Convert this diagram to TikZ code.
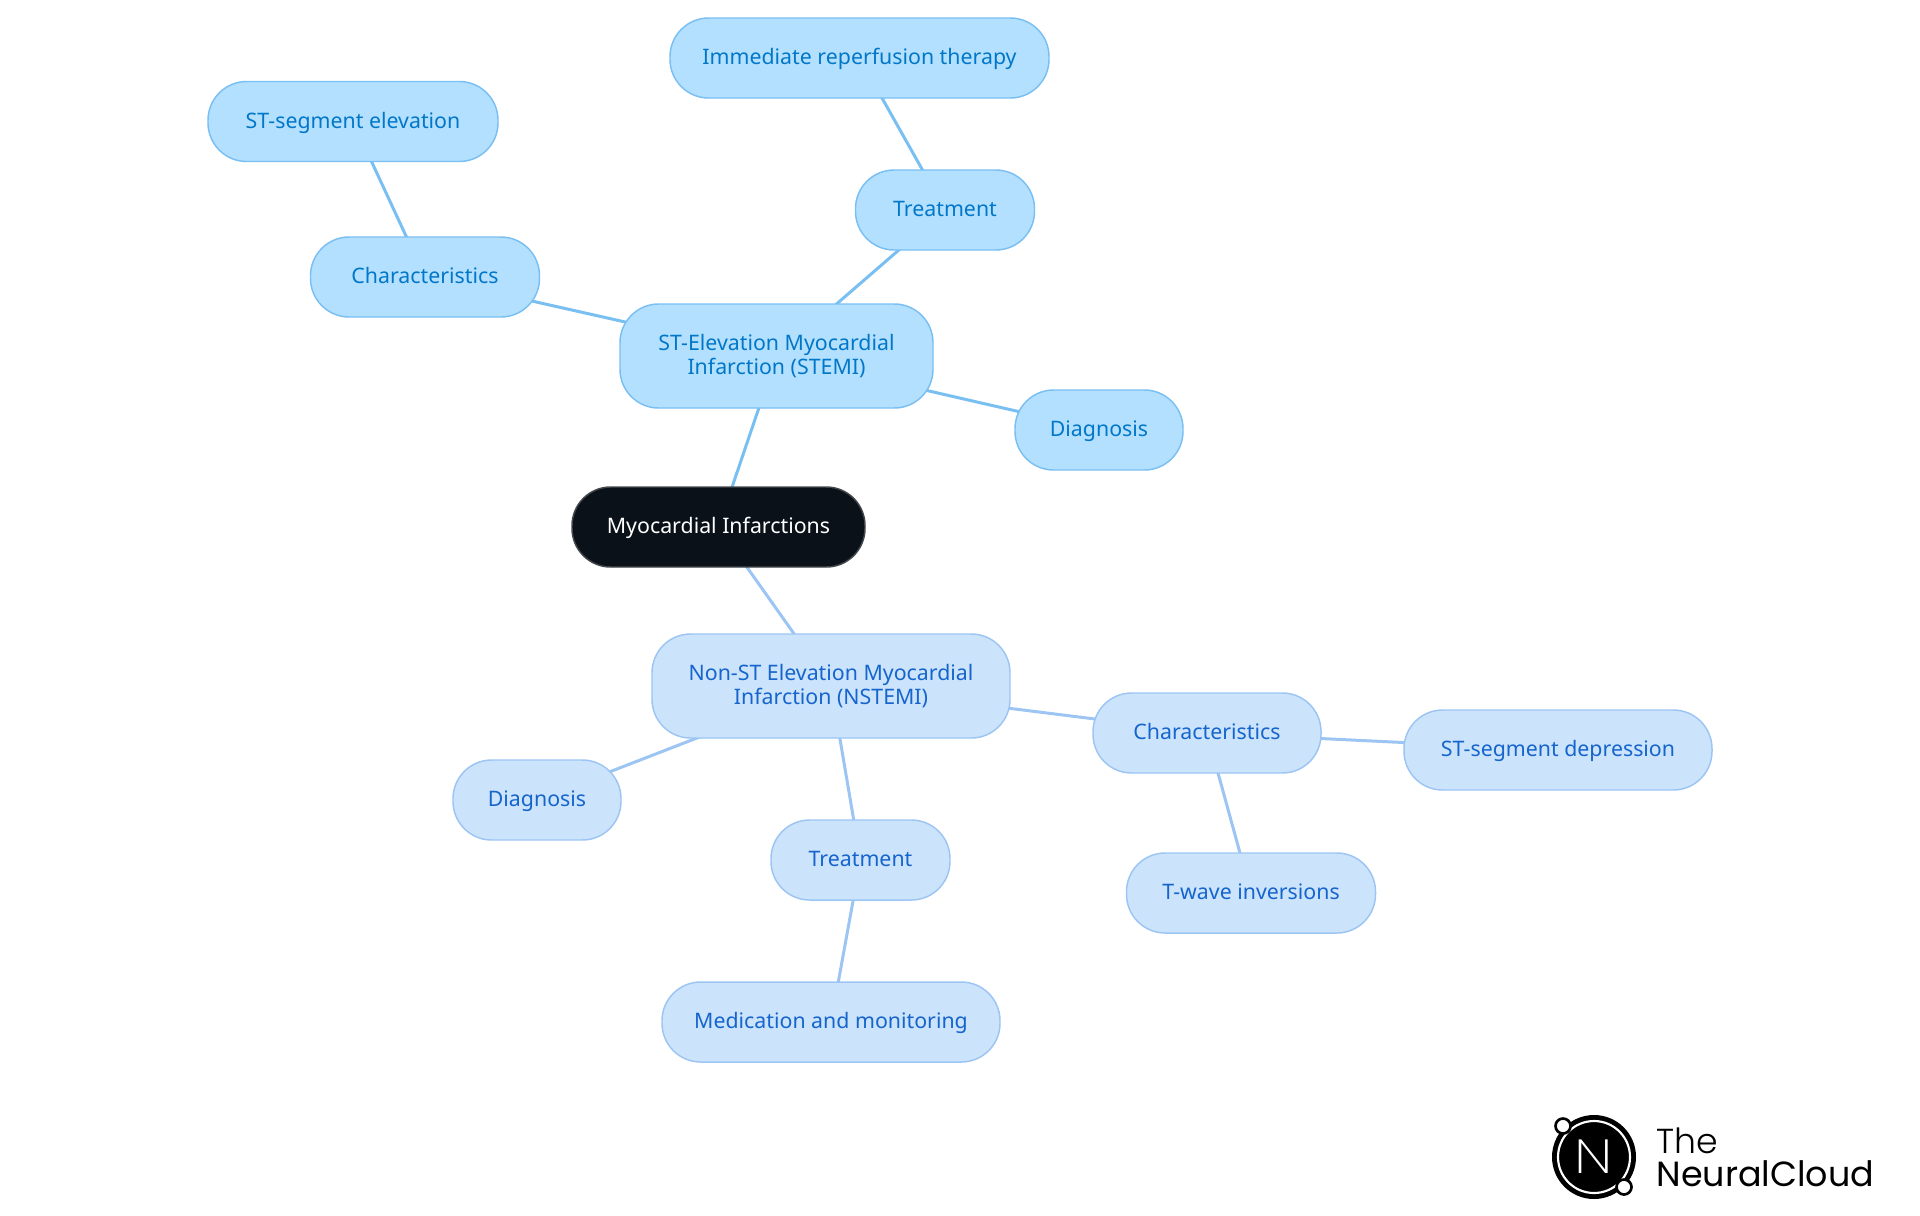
\documentclass[tikz,border=0pt]{standalone}
\usepackage{fontspec}
\setmainfont{Noto Sans}
\newfontfamily\logofont{Poppins}
\newfontfamily\logolight{Poppins Light}
\newfontfamily\logothin{Poppins ExtraLight}
\usetikzlibrary{backgrounds}
\definecolor{rootfill}{RGB}{11,17,25}
\definecolor{rootline}{RGB}{68,72,78}
\definecolor{stemifill}{RGB}{179,224,255}
\definecolor{stemiline}{RGB}{122,191,242}
\definecolor{stemitext}{RGB}{2,119,200}
\definecolor{nstemifill}{RGB}{204,227,252}
\definecolor{nstemiline}{RGB}{156,197,243}
\definecolor{nstemitext}{RGB}{21,101,205}
\tikzset{every picture/.style={line width=0.75pt}}
\tikzset{
	mapbox/.style={rounded corners=29pt,line width=1.1pt,minimum height=60pt,inner sep=0pt,align=center,font=\fontsize{16}{17.4}\selectfont},
	oneline/.style={text height=13pt,text depth=3pt},
	rootbox/.style={mapbox,oneline,draw=rootline,fill=rootfill,text=white},
	stemibox/.style={mapbox,draw=stemiline,fill=stemifill,text=stemitext},
	nstemibox/.style={mapbox,draw=nstemiline,fill=nstemifill,text=nstemitext},
	stemilink/.style={draw=stemiline,line width=2.25pt},
	nstemilink/.style={draw=nstemiline,line width=2.25pt},
}

\begin{document}
\begin{tikzpicture}[x=0.75pt,y=0.75pt,yscale=-1,xscale=1]
	\path[use as bounding box] (0,0) rectangle (1920,1215);

	%Root
	\node[rootbox,minimum width=219.75pt] (root) at (718.5,527) {Myocardial Infarctions};

	%STEMI branch
	\node[stemibox,minimum width=234.75pt,minimum height=78pt] (stemi) at (776.5,356) {ST-Elevation Myocardial\\Infarction (STEMI)};
	\node[stemibox,oneline,minimum width=171.75pt] (stemichar) at (425,277) {Characteristics};
	\node[stemibox,oneline,minimum width=217.5pt] (stemielev) at (353,121.5) {ST-segment elevation};
	\node[stemibox,oneline,minimum width=134.25pt] (stemitreat) at (945,210) {Treatment};
	\node[stemibox,oneline,minimum width=284.25pt] (stemireperf) at (859.5,58) {Immediate reperfusion therapy};
	\node[stemibox,oneline,minimum width=126pt] (stemidiag) at (1099,430) {Diagnosis};

	%NSTEMI branch
	\node[nstemibox,minimum width=268.5pt,minimum height=78pt] (nstemi) at (831,686) {Non-ST Elevation Myocardial\\Infarction (NSTEMI)};
	\node[nstemibox,oneline,minimum width=171pt] (nstemichar) at (1207,733) {Characteristics};
	\node[nstemibox,oneline,minimum width=231pt] (nstemidepr) at (1558,750) {ST-segment depression};
	\node[nstemibox,oneline,minimum width=186.75pt] (nstemitwave) at (1251,893) {T-wave inversions};
	\node[nstemibox,oneline,minimum width=126pt] (nstemidiag) at (537,800) {Diagnosis};
	\node[nstemibox,oneline,minimum width=134.25pt] (nstemitreat) at (860.5,860) {Treatment};
	\node[nstemibox,oneline,minimum width=253.5pt] (nstemimed) at (831,1022) {Medication and monitoring};

	%Links
	\begin{scope}[on background layer]
		\draw[stemilink] (root.center) -- (stemi.center);
		\draw[stemilink] (stemi.center) -- (stemichar.center);
		\draw[stemilink] (stemichar.center) -- (stemielev.center);
		\draw[stemilink] (stemi.center) -- (stemitreat.center);
		\draw[stemilink] (stemitreat.center) -- (stemireperf.center);
		\draw[stemilink] (stemi.center) -- (stemidiag.center);
		\draw[nstemilink] (root.center) -- (nstemi.center);
		\draw[nstemilink] (nstemi.center) -- (nstemichar.center);
		\draw[nstemilink] (nstemichar.center) -- (nstemidepr.center);
		\draw[nstemilink] (nstemichar.center) -- (nstemitwave.center);
		\draw[nstemilink] (nstemi.center) -- (nstemidiag.center);
		\draw[nstemilink] (nstemi.center) -- (nstemitreat.center);
		\draw[nstemilink] (nstemitreat.center) -- (nstemimed.center);
	\end{scope}

	%Logo
	\fill[black] (1594,1157) circle (42);
	\draw[white,line width=1.6pt] (1594,1157) circle (36);
	\draw[black,fill=white,line width=2pt] (1563,1126) circle (7.5);
	\draw[black,fill=white,line width=2pt] (1624,1187) circle (7.5);
	\node[text=white,inner sep=0pt,xscale=1.2,yscale=-1,transform shape,font=\logothin\fontsize{36}{36}\selectfont] (logomark) at (1594,1157) {N};
	\node[anchor=base west,inner sep=0pt,font=\logolight\fontsize{26}{26}\selectfont] (logothe) at (1656,1153) {The};
	\node[anchor=base west,inner sep=0pt,font=\logofont\fontsize{26.2}{26}\selectfont] (logoname) at (1656,1186) {NeuralCloud};
\end{tikzpicture}
\end{document}
